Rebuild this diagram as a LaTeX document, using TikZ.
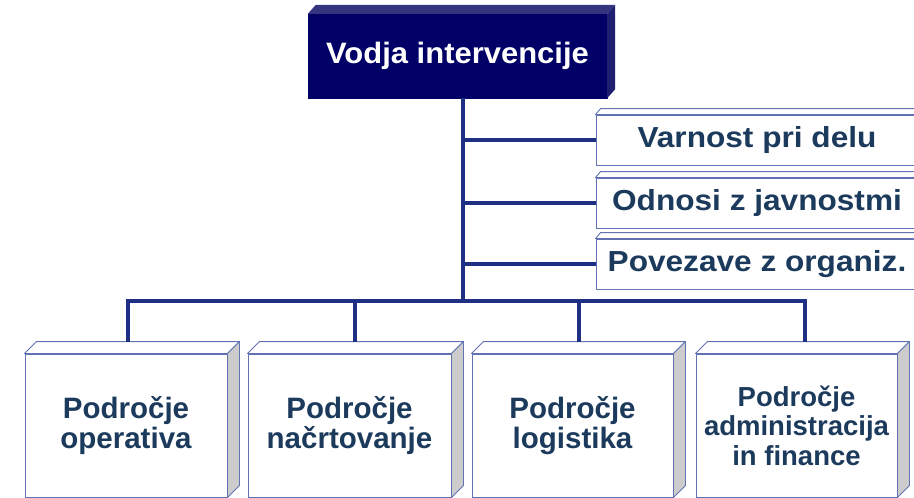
\documentclass[tikz,border=0pt]{standalone}
\usepackage{fontspec}
\setmainfont{Liberation Sans}
\newfontfamily\widefont[FakeStretch=1.09]{Liberation Sans}
\newfontfamily\topfont[FakeStretch=1.05]{Liberation Sans}
\usetikzlibrary{calc}
\definecolor{navy}{HTML}{000066}
\definecolor{navytop}{HTML}{34347F}
\definecolor{navyside}{HTML}{1F1F72}
\definecolor{boxline}{HTML}{6272B2}
\definecolor{txt}{HTML}{1B3A5C}
\definecolor{conn}{HTML}{1F2F84}
\definecolor{sidegrey}{HTML}{CCCCCC}
\tikzset{
  topbox/.style={draw=navy, fill=navy, minimum width=299pt, minimum height=84pt, inner sep=0pt,
    text=white, font=\topfont\bfseries\fontsize{29.5}{31}\selectfont},
  sidebox/.style={draw=boxline, line width=0.9pt, fill=white, minimum width=322pt, minimum height=50pt, inner sep=0pt,
    text=txt, font=\widefont\bfseries\fontsize{29}{31}\selectfont},
  areabox/.style={draw=boxline, line width=0.9pt, fill=white, minimum height=143pt, inner sep=0pt,
    text=txt, align=center, font=\bfseries\fontsize{29.5}{29.5}\selectfont},
  smallarea/.style={font=\bfseries\fontsize{27.5}{29.5}\selectfont},
  face/.style={draw=boxline, line width=0.9pt, line join=round},
  connline/.style={draw=conn, line width=3.2pt}
}
\begin{document}
\begin{tikzpicture}[x=1pt,y=-1pt]
\useasboundingbox (0,0) rectangle (914,498);
\clip (0,0) rectangle (914,498);
% top box
\node[topbox] (top) at (457.5,56) {Vodja intervencije};
\fill[navytop] (top.north west) -- ++(8,-9) -- ($(top.north east)+(8,-9)$) -- (top.north east) -- cycle;
\fill[navyside] (top.north east) -- ++(8,-9) -- ($(top.south east)+(8,-9)$) -- (top.south east) -- cycle;
% right boxes
\foreach \n/\y/\t in {v/140/Varnost pri delu, o/203/Odnosi z javnostmi, p/264/Povezave z organiz.}{
  \node[sidebox] (\n) at (757,\y) {\t};
  \filldraw[face, fill=white] (\n.north west) -- ++(5,-6) -- ($(\n.north east)+(5,-6)$) -- (\n.north east) -- cycle;
}
% bottom boxes
\node[areabox, minimum width=202pt] (b1) at (126,425.5) {Področje\\operativa};
\node[areabox, minimum width=203pt] (b2) at (349.5,425.5) {Področje\\načrtovanje};
\node[areabox, minimum width=201pt] (b3) at (572.5,425.5) {Področje\\logistika};
\node[areabox, smallarea, minimum width=201pt] (b4) at (796.5,425.5) {Področje\\administracija\\in finance};
\foreach \n in {b1,b2,b3,b4}{
  \filldraw[face, fill=white] (\n.north west) -- ++(12,-12) -- ($(\n.north east)+(12,-12)$) -- (\n.north east) -- cycle;
  \filldraw[face, fill=sidegrey] (\n.north east) -- ++(12,-12) -- ($(\n.south east)+(12,-12)$) -- (\n.south east) -- cycle;
}
% connectors
\coordinate (spine) at (463,301);
\coordinate (busL) at (128,301);
\coordinate (busR) at (805,301);
\coordinate (j2) at (355,301);
\coordinate (j3) at (579,301);
\draw[connline] (top.south -| spine) -- (spine);
\draw[connline] ([xshift=-1.6pt]busL) -- ([xshift=1.6pt]busR);
\foreach \n in {v,o,p}{
  \draw[connline] (spine |- \n.west) -- (\n.west);
}
\draw[connline] (busL) -- ++(0,41);
\draw[connline] (j2) -- ++(0,41);
\draw[connline] (j3) -- ++(0,41);
\draw[connline] (busR) -- ++(0,41);
\end{tikzpicture}
\end{document}
